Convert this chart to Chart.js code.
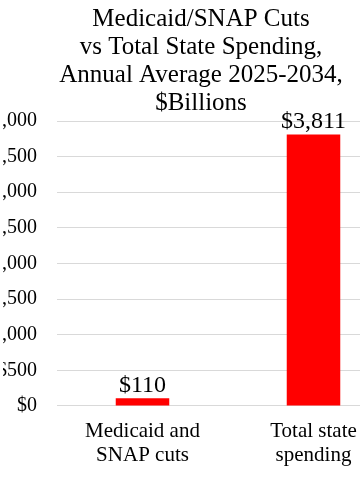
<!DOCTYPE html>
<html>
<head>
<meta charset="utf-8">
<script src="https://cdn.jsdelivr.net/npm/chart.js@4.4.1/dist/chart.umd.min.js"></script>
<style>
  html, body { margin: 0; padding: 0; background: #fff; overflow: hidden; }
  body { width: 360px; height: 480px; position: relative; }
  #wrap { position: absolute; left: -22px; top: 0; width: 431px; height: 480px; }
  #probe { position: absolute; left: -1000px; top: 0; font-family: "Liberation Serif"; font-size: 20px; }
</style>
</head>
<body>
<div id="probe">Medicaid $3,811</div>
<div id="wrap"><canvas id="c"></canvas></div>
<script>
const categories = [["Medicaid and", "SNAP cuts"], ["Total state", "spending"]];
const values = [110, 3811];
const valueLabels = ["$110", "$3,811"];
const titleLines = ["Medicaid/SNAP Cuts", "vs Total State Spending,", "Annual Average 2025-2034,", "$Billions"];
const yMin = 0, yMax = 4000, yStep = 500;

const FONT = '"Liberation Serif"';

const valueLabelPlugin = {
  id: 'valueLabels',
  afterDatasetsDraw(chart) {
    const ctx = chart.ctx;
    const meta = chart.getDatasetMeta(0);
    ctx.save();
    ctx.font = "24px " + FONT;
    ctx.fillStyle = "#000";
    ctx.textAlign = "center";
    ctx.textBaseline = "alphabetic";
    meta.data.forEach((bar, i) => {
      ctx.fillText(valueLabels[i], bar.x, bar.y - 6);
    });
    ctx.restore();
  }
};

function build() {
  new Chart(document.getElementById('c'), {
    type: 'bar',
    data: {
      labels: categories,
      datasets: [{
        data: values,
        backgroundColor: '#ff0000',
        borderWidth: 0,
        barPercentage: 0.313,
        categoryPercentage: 1.0
      }]
    },
    options: {
      responsive: true,
      maintainAspectRatio: false,
      animation: false,
      devicePixelRatio: 1,
      layout: { padding: { left: 25, right: 10, top: 0, bottom: 0 } },
      plugins: {
        legend: { display: false },
        tooltip: { enabled: false },
        title: {
          display: true,
          text: titleLines,
          color: '#000',
          font: { family: FONT, size: 25, weight: 'normal', lineHeight: 1.12 },
          padding: { top: 5, bottom: 4 }
        }
      },
      scales: {
        x: {
          grid: { display: false, drawTicks: false },
          border: { display: false },
          ticks: {
            color: '#000',
            font: { family: FONT, size: 21, lineHeight: 1.143 },
            padding: 13,
            maxRotation: 0,
            autoSkip: false
          }
        },
        y: {
          min: yMin,
          max: yMax,
          afterFit(scale) { scale.width = 54; },
          grid: { color: '#d9d9d9', lineWidth: 1, drawTicks: false },
          border: { display: false },
          ticks: {
            stepSize: yStep,
            color: '#000',
            padding: 20,
            font: { family: FONT, size: 20 },
            callback: v => '$' + v.toLocaleString('en-US')
          }
        }
      }
    },
    plugins: [valueLabelPlugin]
  });
}

Promise.all([
  document.fonts.load('24px "Liberation Serif"'),
  document.fonts.load('20px "Liberation Serif"')
]).then(build, build);
</script>
</body>
</html>
